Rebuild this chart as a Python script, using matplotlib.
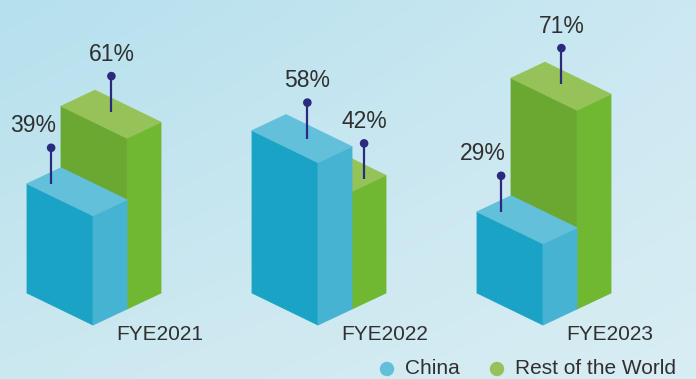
import numpy as np
import matplotlib
matplotlib.use('Agg')
import matplotlib.pyplot as plt
from matplotlib.patches import Polygon, Circle

# ---------------------------------------------------------------------------
# Data
# ---------------------------------------------------------------------------

years = ['FYE2021', 'FYE2022', 'FYE2023']
china = [39, 58, 29]
rest_of_world = [61, 42, 71]
series_names = ['China', 'Rest of the World']

# ---------------------------------------------------------------------------
# Style / geometry (pixel space, y grows downward)
# ---------------------------------------------------------------------------

W, H = 696, 379
PX_PER_PCT = 2.8
BASE_Y = 293
GROUP_X = [27, 252, 477]
FRONT = np.array([66.0, 32.0])     # front face bottom edge
DEPTH = np.array([34.0, -16.0])    # receding edge

CHINA_COLS = dict(front='#1ba3c6', side='#47b3d2', top='#62c0db')
ROW_COLS = dict(front='#6aa832', side='#70b732', top='#95c35a')
PIN_COL = '#2b2a7e'
TEXT_COL = '#303030'

# pin position on the top face (fraction along front, fraction along depth)
CHINA_PIN = [(0.18, 0.36), (0.54, 0.58), (0.18, 0.36)]
ROW_PIN = [(0.47, 0.57), (0.90, 0.55), (0.47, 0.57)]
CHINA_LBL_DX = [-18, 0, -18]
PIN_LEN = 36

plt.rcParams['font.family'] = ['Liberation Sans', 'DejaVu Sans']

fig = plt.figure(figsize=(W / 100, H / 100), dpi=100)
ax = fig.add_axes([0, 0, 1, 1])
ax.set_xlim(0, W)
ax.set_ylim(H, 0)
ax.axis('off')

# background: soft sky gradient
gy, gx = np.mgrid[0:1:60j, 0:1:120j]
tl = np.array([0.71, 0.88, 0.93])
tr = np.array([0.80, 0.91, 0.95])
bl = np.array([0.80, 0.91, 0.94])
br = np.array([0.85, 0.93, 0.955])
bg = ((1 - gx)[..., None] * (1 - gy)[..., None] * tl + gx[..., None] * (1 - gy)[..., None] * tr
      + (1 - gx)[..., None] * gy[..., None] * bl + gx[..., None] * gy[..., None] * br)
ax.imshow(bg, extent=(0, W, H, 0), aspect='auto', interpolation='bicubic', zorder=0)


def box(base, h, cols):
    up = np.array([0.0, -h])
    b0 = base
    b1 = base + FRONT
    b2 = base + FRONT + DEPTH
    b3 = base + DEPTH
    faces = [
        ([b0, b1, b1 + up, b0 + up], cols['front']),
        ([b1, b2, b2 + up, b1 + up], cols['side']),
        ([b0 + up, b1 + up, b2 + up, b3 + up], cols['top']),
    ]
    for pts, c in faces:
        ax.add_patch(Polygon(pts, closed=True, facecolor=c, edgecolor=c,
                             lw=0.6, zorder=2))


def pin(base, h, uv, label, lbl_dx=0):
    u, v = uv
    p = base + np.array([0.0, -h]) + u * FRONT + v * DEPTH
    top = p[1] - PIN_LEN
    ax.plot([p[0], p[0]], [p[1], top], color=PIN_COL, lw=1.6, zorder=4,
            solid_capstyle='butt')
    ax.add_patch(Circle((p[0], top), 3.6, color=PIN_COL, zorder=5))
    ax.text(p[0] + lbl_dx, top - 22, label, ha='center', va='center',
            fontsize=16.5, color=TEXT_COL, zorder=5)


for i, yr in enumerate(years):
    base_c = np.array([GROUP_X[i], BASE_Y], dtype=float)
    base_r = base_c + DEPTH
    h_c = china[i] * PX_PER_PCT
    h_r = rest_of_world[i] * PX_PER_PCT
    box(base_r, h_r, ROW_COLS)
    box(base_c, h_c, CHINA_COLS)
    pin(base_c, h_c, CHINA_PIN[i], f'{china[i]}%', CHINA_LBL_DX[i])
    pin(base_r, h_r, ROW_PIN[i], f'{rest_of_world[i]}%')
    ax.text(GROUP_X[i] + 133, 334, yr, ha='center', va='center',
            fontsize=15, color=TEXT_COL, zorder=5)

# legend
legend_x = [387, 497]
legend_cols = [CHINA_COLS['top'], ROW_COLS['top']]
for lx, name, c in zip(legend_x, series_names, legend_cols):
    ax.add_patch(Circle((lx, 369), 6.5, color=c, zorder=5))
    ax.text(lx + 18, 369, name, ha='left', va='center', fontsize=15,
            color=TEXT_COL, zorder=5)

fig.savefig('out.png', dpi=100)
